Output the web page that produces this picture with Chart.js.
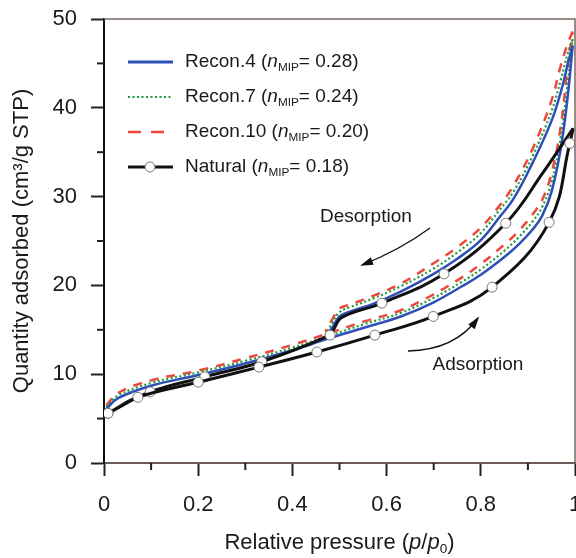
<!DOCTYPE html>
<html>
<head>
<meta charset="utf-8">
<script src="https://cdn.jsdelivr.net/npm/chart.js@4.4.0/dist/chart.umd.min.js"></script>
<style>
  body { margin: 0; background: #fff; }
  #wrap { width: 576px; height: 558px; }
</style>
</head>
<body>
<div id="wrap"><canvas id="isoChart"></canvas></div>
<script>
// relative pressure grid for the reconstructed samples
const pAds = [0.005, 0.03, 0.1, 0.2, 0.3, 0.4, 0.476, 0.55, 0.63, 0.7, 0.76, 0.8, 0.85, 0.88, 0.91, 0.93, 0.95, 0.97, 0.985, 0.995];
const pDes = [0.995, 0.985, 0.97, 0.95, 0.91, 0.87, 0.84, 0.8, 0.75, 0.7, 0.63, 0.57, 0.52, 0.5, 0.485, 0.47];

// quantity adsorbed (cm3/g STP)
const recon4Ads  = [6.1, 7.3, 8.7, 9.9, 11.2, 12.7, 14.0, 15.2, 16.5, 18.1, 19.9, 21.2, 23.2, 24.6, 26.3, 27.8, 30.5, 35.5, 41.5, 47.0];
const recon7Ads  = [6.3, 7.6, 9.0, 10.2, 11.5, 13.0, 14.3, 15.6, 16.9, 18.6, 20.4, 21.8, 23.9, 25.4, 27.2, 28.8, 31.6, 36.8, 43.0, 47.7];
const recon10Ads = [6.5, 7.9, 9.3, 10.4, 11.8, 13.3, 14.6, 15.9, 17.2, 19.0, 20.9, 22.4, 24.6, 26.1, 28.0, 29.6, 32.6, 38.0, 45.0, 48.4];

const recon4Des  = [47.0, 45.0, 41.8, 38.5, 33.8, 29.8, 27.7, 25.1, 23.0, 21.3, 19.3, 17.9, 17.0, 16.5, 15.3, 14.1];
const recon7Des  = [47.7, 46.2, 43.2, 39.6, 34.6, 30.6, 28.5, 25.9, 23.7, 21.9, 19.9, 18.5, 17.5, 17.0, 15.8, 14.4];
const recon10Des = [48.6, 47.3, 44.8, 40.8, 35.4, 31.3, 29.0, 26.5, 24.3, 22.5, 20.2, 18.8, 17.8, 17.4, 16.2, 14.8];

// natural sample (measured points)
const natAdsP = [0.0085, 0.072, 0.2, 0.329, 0.452, 0.575, 0.699, 0.824, 0.945, 0.989, 0.996];
const natAds  = [5.6, 7.4, 9.1, 10.8, 12.5, 14.4, 16.5, 19.8, 27.1, 36.0, 37.7];
const natDesP = [0.996, 0.932, 0.853, 0.722, 0.59, 0.505, 0.487, 0.48, 0.335, 0.214, 0.098, 0.0085];
const natDes  = [37.7, 32.7, 27.0, 21.3, 18.0, 16.4, 15.0, 14.4, 11.4, 9.7, 8.0, 5.6];

const xTicks = [0, 0.2, 0.4, 0.6, 0.8, 1];
const yTicks = [0, 10, 20, 30, 40, 50];

const FONT = "'Liberation Sans', Arial, sans-serif";

function pts(xs, ys) {
    return xs.map((x, i) => ({ x: x, y: ys[i] }));
}

const blue = '#2d4fb6';
const green = '#1f9a3c';
const red = '#f0473d';
const black = '#111111';

function recon(data, color, width, dash) {
    return {
        data: data,
        borderColor: color,
        borderWidth: width,
        borderDash: dash,
        showLine: true,
        pointRadius: 0,
        tension: 0.4,
        fill: false
    };
}

const natAdsRadius = natAdsP.map((p, i) => i === natAdsP.length - 1 ? 0 : 5);
const natDesRadius = natDesP.map((p, i) => (i < 2 || i === 5 || i === 6) ? 0 : 5);

function natural(data, radius) {
    return {
        data: data,
        borderColor: black,
        borderWidth: 3,
        showLine: true,
        tension: 0.4,
        pointRadius: radius,
        pointBackgroundColor: '#ffffff',
        pointBorderColor: '#777777',
        pointBorderWidth: 1,
        fill: false
    };
}

// legend drawn by hand (italic n, subscript MIP)
const legendRows = [
    { name: 'Recon.4 (', val: '= 0.28)', color: blue, width: 3, dash: [] },
    { name: 'Recon.7 (', val: '= 0.24)', color: green, width: 2.2, dash: [2, 2.5] },
    { name: 'Recon.10 (', val: '= 0.20)', color: red, width: 2.5, dash: [13, 10] },
    { name: 'Natural (', val: '= 0.18)', color: black, width: 3, dash: [], marker: true }
];

function drawRich(c, parts, x, y, size) {
    let cx = x;
    parts.forEach(p => {
        const s = p.sub ? size * 0.62 : size;
        c.font = (p.italic ? 'italic ' : '') + s + 'px ' + FONT;
        c.fillText(p.t, cx, y + (p.sub ? size * 0.28 : 0));
        cx += c.measureText(p.t).width;
    });
    return cx - x;
}

function richWidth(c, parts, size) {
    let w = 0;
    parts.forEach(p => {
        const s = p.sub ? size * 0.62 : size;
        c.font = (p.italic ? 'italic ' : '') + s + 'px ' + FONT;
        w += c.measureText(p.t).width;
    });
    return w;
}

function arrow(c, x0, y0, cx, cy, x1, y1) {
    c.beginPath();
    c.moveTo(x0, y0);
    c.quadraticCurveTo(cx, cy, x1, y1);
    c.stroke();
    const a = Math.atan2(y1 - cy, x1 - cx);
    const L = 11, W = 4;
    c.beginPath();
    c.moveTo(x1 + Math.cos(a) * 2, y1 + Math.sin(a) * 2);
    c.lineTo(x1 - Math.cos(a) * L + Math.sin(a) * W, y1 - Math.sin(a) * L - Math.cos(a) * W);
    c.lineTo(x1 - Math.cos(a) * L - Math.sin(a) * W, y1 - Math.sin(a) * L + Math.cos(a) * W);
    c.closePath();
    c.fill();
}

const decorPlugin = {
    id: 'decor',
    afterDraw(chart) {
        const c = chart.ctx;
        const xs = chart.scales.x, ys = chart.scales.y;
        const area = chart.chartArea;
        c.save();

        // top and right frame
        c.strokeStyle = '#7a6660';
        c.lineWidth = 1.5;
        c.beginPath();
        c.moveTo(area.left, area.top);
        c.lineTo(area.right, area.top);
        c.lineTo(area.right, area.bottom);
        c.stroke();

        // minor ticks
        c.strokeStyle = '#222';
        c.lineWidth = 2;
        [0.1, 0.3, 0.5, 0.7, 0.9].forEach(v => {
            const px = xs.getPixelForValue(v);
            c.beginPath();
            c.moveTo(px, area.bottom);
            c.lineTo(px, area.bottom + 7);
            c.stroke();
        });
        [5, 15, 25, 35, 45].forEach(v => {
            const py = ys.getPixelForValue(v);
            c.beginPath();
            c.moveTo(area.left, py);
            c.lineTo(area.left - 7, py);
            c.stroke();
        });

        // legend
        c.fillStyle = '#1a1a1a';
        c.textBaseline = 'middle';
        c.textAlign = 'left';
        legendRows.forEach((r, i) => {
            const y = 62 + i * 35;
            c.strokeStyle = r.color;
            c.lineWidth = r.width;
            c.setLineDash(r.dash);
            c.beginPath();
            c.moveTo(128, y);
            c.lineTo(173, y);
            c.stroke();
            c.setLineDash([]);
            if (r.marker) {
                c.fillStyle = '#fff';
                c.strokeStyle = '#777';
                c.lineWidth = 1;
                c.beginPath();
                c.arc(150, y, 5, 0, Math.PI * 2);
                c.fill();
                c.stroke();
                c.fillStyle = '#1a1a1a';
            }
            drawRich(c, [
                { t: r.name },
                { t: 'n', italic: true },
                { t: 'MIP', sub: true },
                { t: r.val }
            ], 185, y, 19);
        });

        // annotations
        c.font = '19px ' + FONT;
        c.textAlign = 'center';
        c.fillText('Desorption', xs.getPixelForValue(0.556), ys.getPixelForValue(27.7));
        c.fillText('Adsorption', xs.getPixelForValue(0.794), ys.getPixelForValue(11.1));
        c.strokeStyle = '#111';
        c.fillStyle = '#111';
        c.lineWidth = 1.3;
        arrow(c, 430, 228, 400, 250, 362, 265);
        arrow(c, 408, 351, 455, 350, 478, 318);

        // axis titles
        c.fillStyle = '#1a1a1a';
        c.textAlign = 'left';
        const xt = [
            { t: 'Relative pressure (' },
            { t: 'p', italic: true },
            { t: '/' },
            { t: 'p', italic: true },
            { t: '0', sub: true },
            { t: ')' }
        ];
        const w = richWidth(c, xt, 22);
        drawRich(c, xt, (area.left + area.right) / 2 - w / 2, 543, 22);

        c.translate(22, (area.top + area.bottom) / 2);
        c.rotate(-Math.PI / 2);
        c.font = '22px ' + FONT;
        c.textAlign = 'center';
        c.fillText('Quantity adsorbed (cm\u00b3/g STP)', 0, 0);
        c.restore();
    }
};

const noPad = () => ({ left: 0, top: 0, right: 0, bottom: 0 });

const ctx = document.getElementById('isoChart');

new Chart(ctx, {
    type: 'scatter',
    data: {
        datasets: [
            natural(pts(natAdsP, natAds), natAdsRadius),
            natural(pts(natDesP, natDes), natDesRadius),
            recon(pts(pAds, recon4Ads), blue, 2.5, []),
            recon(pts(pDes, recon4Des), blue, 2.5, []),
            recon(pts(pAds, recon7Ads), green, 2.2, [2, 2.5]),
            recon(pts(pDes, recon7Des), green, 2.2, [2, 2.5]),
            recon(pts(pAds, recon10Ads), red, 2.5, [9, 8]),
            recon(pts(pDes, recon10Des), red, 2.5, [9, 8])
        ]
    },
    options: {
        responsive: true,
        maintainAspectRatio: false,
        animation: false,
        events: [],
        layout: {
            autoPadding: false,
            padding: { top: 19, right: 1, bottom: 0, left: 0 }
        },
        scales: {
            x: {
                type: 'linear',
                min: 0,
                max: 1,
                afterBuildTicks: s => { s.ticks = xTicks.map(v => ({ value: v })); },
                afterFit: s => { s.height = 95; s.paddingLeft = 0; s.paddingRight = 0; s.getPadding = noPad; },
                ticks: {
                    color: '#1a1a1a',
                    padding: 16,
                    font: { family: FONT, size: 22 },
                    callback: v => String(v)
                },
                grid: {
                    drawOnChartArea: false,
                    tickLength: 13,
                    tickWidth: 2,
                    tickColor: '#222'
                },
                border: { color: '#6b5a55', width: 2 }
            },
            y: {
                min: 0,
                max: 50,
                afterBuildTicks: s => { s.ticks = yTicks.map(v => ({ value: v })); },
                afterFit: s => { s.width = 104; s.paddingTop = 0; s.paddingBottom = 0; s.getPadding = noPad; },
                ticks: {
                    color: '#1a1a1a',
                    padding: 14,
                    font: { family: FONT, size: 22 }
                },
                grid: {
                    drawOnChartArea: false,
                    tickLength: 13,
                    tickWidth: 2,
                    tickColor: '#222'
                },
                border: { color: '#111', width: 2 }
            }
        },
        plugins: {
            legend: { display: false },
            tooltip: { enabled: false }
        }
    },
    plugins: [decorPlugin]
});
</script>
</body>
</html>
